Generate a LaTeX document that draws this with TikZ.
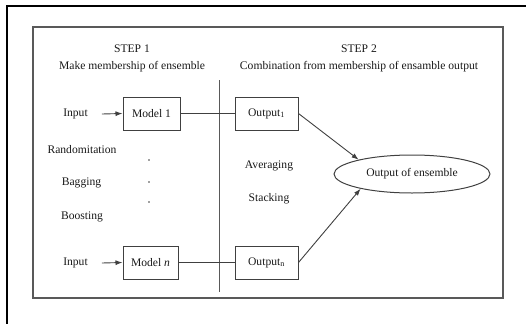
\documentclass[tikz,border=0pt]{standalone}
\usepackage{fontspec}
\setmainfont{Liberation Serif}
\usetikzlibrary{shapes.geometric,arrows.meta}
\begin{document}
\begin{tikzpicture}[x=1pt,y=-1pt,
  lbl/.style={font=\fontsize{11.6}{14}\selectfont, text=black!90, inner sep=0pt},
  boxn/.style={draw=black!75, line width=1pt, minimum height=33pt, font=\fontsize{11.6}{14}\selectfont, text=black!90, inner sep=0pt},
  conn/.style={draw=black!75, line width=0.9pt},
  arr/.style={conn, -{Latex[length=7pt,width=5pt]}}]
\useasboundingbox (0,0) rectangle (526,324);
% outer frame (top and left edges)
\draw[line width=1.6pt] (526,6) -- (7,6) -- (7,324);
% inner frame
\draw[draw=black!65, line width=1.5pt] (33,27) rectangle (503,298);
% divider
\draw[draw=black!65, line width=0.7pt] (219,80) -- (219,292);
% headers
\node[lbl] (s1) at (132,49) {STEP 1};
\node[lbl] (m1) at (132,67) {Make membership of ensemble};
\node[lbl] (s2) at (359,49) {STEP 2};
\node[lbl] (m2) at (359,67) {Combination from membership of ensamble output};
% left column
\node[lbl] (in1) at (75.5,114) {Input};
\node[boxn, minimum width=57pt] (mod1) at (151.5,113.5) {Model 1};
\node[lbl] (in2) at (75.5,263) {Input};
\node[boxn, minimum width=55pt] (modn) at (150.5,262.5) {Model \textit{n}};
\node[lbl] (rand) at (82,150) {Randomitation};
\node[lbl] (bag) at (81.5,183) {Bagging};
\node[lbl] (boost) at (82,217) {Boosting};
\fill[black!75] (149,160) circle (0.9pt) (149,182) circle (0.9pt) (149,202) circle (0.9pt);
% right column
\node[boxn, minimum width=63pt] (out1) at (266.5,113.5) {Output\textsubscript{1}};
\node[boxn, minimum width=63pt] (outn) at (266.5,262.5) {Output\textsubscript{n}};
\node[lbl] (avg) at (269,166) {Averaging};
\node[lbl] (stk) at (269,199) {Stacking};
\node[ellipse, draw=black!75, line width=1pt, minimum width=156pt, minimum height=38pt, inner sep=0pt, font=\fontsize{11.6}{14}\selectfont, text=black!90] (ens) at (412,174) {Output of ensemble};
% connectors
\draw[arr] (in1.east) ++(14,0) coordinate (a1) (a1) -- (mod1.west);
\draw[arr] (in2.east) ++(14,0) coordinate (a2) (a2) -- (modn.west);
\draw[conn] (mod1.east) -- (out1.west);
\draw[conn] (modn.east) -- (outn.west);
\draw[arr] (out1.east) -- (ens.165);
\draw[arr] (outn.east) -- (ens.196);
\end{tikzpicture}
\end{document}
